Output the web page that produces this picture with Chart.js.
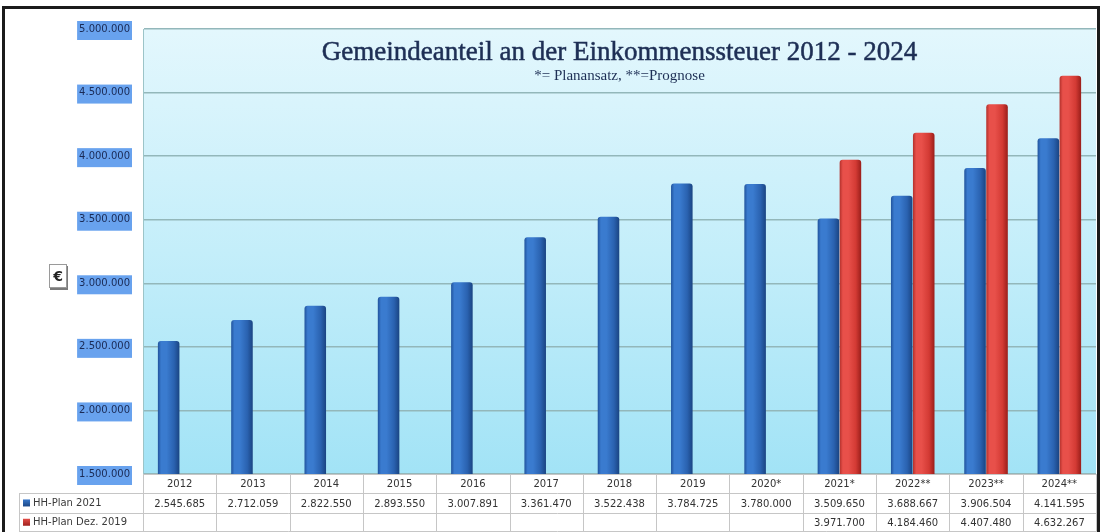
<!DOCTYPE html>
<html>
<head>
<meta charset="utf-8">
<script src="https://cdn.jsdelivr.net/npm/chart.js@4.4.1/dist/chart.umd.min.js"></script>
<style>
  html, body { margin: 0; padding: 0; background: #ffffff; }
  #wrap { position: relative; width: 1102px; height: 532px; overflow: hidden; background: #fff; }
  #c { position: absolute; left: 0; top: 0; }
  #frame { position: absolute; left: 2px; top: 6px; width: 1092px; height: 600px;
           border: 3px solid #1b1b1b; pointer-events: none; }
</style>
</head>
<body>
<div id="wrap">
  <canvas id="c" width="1102" height="532"></canvas>
  <div id="frame"></div>
</div>
<script>
// ---------- data ----------
const categories = ['2012','2013','2014','2015','2016','2017','2018','2019','2020*','2021*','2022**','2023**','2024**'];
const seriesNames = ['HH-Plan 2021', 'HH-Plan Dez. 2019'];
const planHH2021 = [2545685, 2712059, 2822550, 2893550, 3007891, 3361470, 3522438, 3784725, 3780000, 3509650, 3688667, 3906504, 4141595];
const planDez2019 = [null, null, null, null, null, null, null, null, null, 3971700, 4184460, 4407480, 4632267];
const yMin = 1500000;
const yMax = 5000000;
const yStep = 500000;
const titleText = 'Gemeindeanteil an der Einkommenssteuer 2012 - 2024';
const subtitleText = '*= Planansatz, **=Prognose';
const unitLabel = '€';

// ---------- helpers ----------
function fmt(v) {
  if (v === null || v === undefined) return '';
  return String(Math.round(v)).replace(/\B(?=(\d{3})+(?!\d))/g, '.');
}
const tableLabels = categories.map((c, i) => [c, fmt(planHH2021[i]), fmt(planDez2019[i])]);

function cylinder(col) {
  return (ctx) => {
    const el = ctx.element;
    if (!el || !isFinite(el.x) || !isFinite(el.width)) return col.mid;
    const x0 = el.x - el.width / 2, x1 = el.x + el.width / 2;
    const g = ctx.chart.ctx.createLinearGradient(x0, 0, x1, 0);
    g.addColorStop(0, col.edge);
    g.addColorStop(0.15, col.light);
    g.addColorStop(0.4, col.light);
    g.addColorStop(0.75, col.mid);
    g.addColorStop(1, col.dark);
    return g;
  };
}

const COLORS = {
  blue: { edge: '#21539c', light: '#3a7bcf', mid: '#2a62b0', dark: '#1a4482' },
  red:  { edge: '#b3302b', light: '#e8504a', mid: '#d33a34', dark: '#9a1e1a' }
};

// ---------- plugins ----------
const bgPlugin = {
  id: 'bg',
  beforeDraw(chart) {
    const { ctx, chartArea: a } = chart;
    ctx.save();
    ctx.fillStyle = '#ffffff';
    ctx.fillRect(0, 0, chart.width, chart.height);
    const g = ctx.createLinearGradient(0, a.top, 0, a.bottom);
    g.addColorStop(0, '#e3f7fd');
    g.addColorStop(0.5, '#c4eefa');
    g.addColorStop(1, '#a2e3f6');
    ctx.fillStyle = g;
    ctx.fillRect(a.left, a.top, a.right - a.left, a.bottom - a.top);
    ctx.restore();
  }
};

const decoPlugin = {
  id: 'deco',
  afterDraw(chart) {
    const { ctx, chartArea: a, scales: { x } } = chart;
    const n = categories.length;
    const rowH = 19.3;
    const r0 = a.bottom, r1 = r0 + rowH, r2 = r1 + rowH, r3 = r2 + rowH;
    const tableLeft = 19;
    ctx.save();
    ctx.strokeStyle = '#c6c6c6';
    ctx.lineWidth = 1;
    const line = (x1, y1, x2, y2) => { ctx.beginPath(); ctx.moveTo(x1, y1); ctx.lineTo(x2, y2); ctx.stroke(); };
    line(a.left, Math.round(r0) + 0.5, a.right, Math.round(r0) + 0.5);
    line(tableLeft, Math.round(r1) + 0.5, a.right, Math.round(r1) + 0.5);
    line(tableLeft, Math.round(r2) + 0.5, a.right, Math.round(r2) + 0.5);
    line(tableLeft, Math.round(r3) - 0.5, a.right, Math.round(r3) - 0.5);
    for (let i = 0; i <= n; i++) {
      const xx = Math.round(x.getPixelForValue(i - 0.5)) + 0.5;
      line(xx, r0, xx, r3);
    }
    line(tableLeft + 0.5, r1, tableLeft + 0.5, r3);

    // row labels with legend keys
    const keys = [COLORS.blue, COLORS.red];
    ctx.font = '10px "DejaVu Sans"';
    ctx.textBaseline = 'middle';
    ctx.textAlign = 'left';
    [r1, r2].forEach((top, k) => {
      const cy = top + rowH / 2;
      const kg = ctx.createLinearGradient(0, cy - 4, 0, cy + 4);
      kg.addColorStop(0, keys[k].light);
      kg.addColorStop(1, keys[k].dark);
      ctx.fillStyle = kg;
      ctx.fillRect(23, cy - 3.5, 7, 7);
      ctx.fillStyle = '#3a3a3a';
      ctx.fillText(seriesNames[k], 33, cy + 0.5);
    });

    // title & subtitle inside the plot area
    const cx = (a.left + a.right) / 2;
    ctx.textAlign = 'center';
    ctx.fillStyle = '#1e2f55';
    ctx.strokeStyle = '#1e2f55';
    ctx.lineWidth = 0.5;
    ctx.font = '27px "Liberation Serif"';
    ctx.fillText(titleText, cx, a.top + 24);
    ctx.strokeText(titleText, cx, a.top + 24);
    ctx.font = '15px "Liberation Serif"';
    ctx.fillText(subtitleText, cx, a.top + 47);

    // unit box
    const bx = 49, by = 264, bw = 18, bh = 24;
    ctx.fillStyle = '#7a7a7a';
    ctx.fillRect(bx + 1, by + 2, bw, bh);
    ctx.fillStyle = '#ffffff';
    ctx.fillRect(bx, by, bw, bh);
    ctx.strokeStyle = '#9a9a9a';
    ctx.lineWidth = 1;
    ctx.strokeRect(bx + 0.5, by + 0.5, bw - 1, bh - 1);
    ctx.fillStyle = '#222';
    ctx.font = 'bold 14px "DejaVu Sans"';
    ctx.fillText(unitLabel, bx + bw / 2, by + bh / 2 + 1);
    ctx.restore();
  }
};

// ---------- chart ----------
const chart = new Chart(document.getElementById('c'), {
  type: 'bar',
  data: {
    labels: tableLabels,
    datasets: [
      {
        label: seriesNames[0],
        data: planHH2021,
        backgroundColor: cylinder(COLORS.blue),
        borderWidth: 0,
        borderRadius: { topLeft: 3, topRight: 3 },
        borderSkipped: 'bottom',
        categoryPercentage: 0.6,
        barPercentage: 0.98
      },
      {
        label: seriesNames[1],
        data: planDez2019,
        backgroundColor: cylinder(COLORS.red),
        borderWidth: 0,
        borderRadius: { topLeft: 3, topRight: 3 },
        borderSkipped: 'bottom',
        categoryPercentage: 0.6,
        barPercentage: 0.98
      }
    ]
  },
  options: {
    responsive: false,
    animation: false,
    devicePixelRatio: 1,
    layout: { padding: { top: 29, right: 6, left: 0, bottom: 0 } },
    plugins: {
      legend: { display: false },
      title: { display: false },
      tooltip: { enabled: false }
    },
    scales: {
      x: {
        offset: true,
        grid: { display: false, offset: true, drawTicks: false },
        border: { display: false },
        ticks: {
          autoSkip: false,
          maxRotation: 0,
          minRotation: 0,
          padding: 1,
          color: '#333333',
          font: { family: '"DejaVu Sans"', size: 10, lineHeight: '19.3px' }
        },
        afterFit(s) { s.height = 58; }
      },
      y: {
        min: yMin,
        max: yMax,
        beginAtZero: false,
        grid: { color: '#93b7ba', lineWidth: 1.5, drawTicks: false },
        border: { display: true, color: '#9cc4c8', width: 1 },
        ticks: {
          stepSize: yStep,
          padding: 13,
          color: '#1a2a55',
          font: { family: '"DejaVu Sans"', size: 10 },
          showLabelBackdrop: true,
          backdropColor: '#68a2ee',
          backdropPadding: { top: 2, bottom: 5, left: 2, right: 2 },
          callback: (v) => fmt(v)
        },
        afterFit(s) { s.width = 143; }
      }
    }
  },
  plugins: [bgPlugin, decoPlugin]
});
chart.update();
</script>
</body>
</html>
